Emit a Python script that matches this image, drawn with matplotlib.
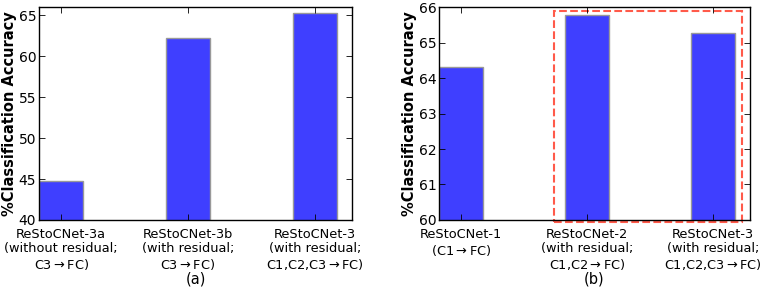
import matplotlib
matplotlib.use("Agg")
import numpy as np
import matplotlib.pyplot as plt
import matplotlib.patches as patch

# (a) panel
labels_a = ["ReStoCNet-3a\n(without residual;\nC3$\\rightarrow$FC)",
            "ReStoCNet-3b\n(with residual;\nC3$\\rightarrow$FC)",
            "ReStoCNet-3\n(with residual;\nC1,C2,C3$\\rightarrow$FC)"]
acc_a = [44.8, 62.25, 65.25]

# (b) panel
labels_b = ["ReStoCNet-1\n(C1$\\rightarrow$FC)",
            "ReStoCNet-2\n(with residual;\nC1,C2$\\rightarrow$FC)",
            "ReStoCNet-3\n(with residual;\nC1,C2,C3$\\rightarrow$FC)"]
acc_b = [64.31, 65.79, 65.26]

BAR_W = 0.35
BAR_COLOR = "#3f3fff"


def draw_panel(ax, labels, values, ylim, yticks, tag):
    x = np.arange(len(values))
    ax.bar(x, values, BAR_W, align="edge", color=BAR_COLOR,
           edgecolor="#999999", linewidth=1.0)
    ax.set_xlim(0, 2.47)
    ax.set_ylim(*ylim)
    ax.set_yticks(yticks)
    ax.set_xticks(x + BAR_W / 2)
    ax.set_xticklabels(labels, fontsize=9.3, linespacing=1.12)
    ax.tick_params(axis="y", labelsize=10, pad=2)
    ax.tick_params(direction="in", top=True, right=True, length=4, width=0.6)
    ax.tick_params(axis="x", pad=6)
    ax.set_ylabel("%Classification Accuracy", fontsize=10.5, fontweight="bold",
                  labelpad=1)
    ax.set_xlabel(tag, fontsize=10.5, labelpad=0)
    for s in ax.spines.values():
        s.set_linewidth(1.0)


fig = plt.figure(figsize=(7.62, 2.89), dpi=100)
ax1 = fig.add_axes([0.0512, 0.239, 0.411, 0.736])
ax2 = fig.add_axes([0.5765, 0.239, 0.4075, 0.736])

draw_panel(ax1, labels_a, acc_a, (40, 66), [40, 45, 50, 55, 60, 65], "(a)")
draw_panel(ax2, labels_b, acc_b, (60, 66), [60, 61, 62, 63, 64, 65, 66], "(b)")

# highlight box around the residual variants
rect = patch.Rectangle((0.91, 59.93), 1.5, 5.97, fill=False,
                       edgecolor="#ff5a4a", linestyle="--", linewidth=1.5,
                       clip_on=False)
ax2.add_patch(rect)

fig.savefig("out.png", dpi=100)
